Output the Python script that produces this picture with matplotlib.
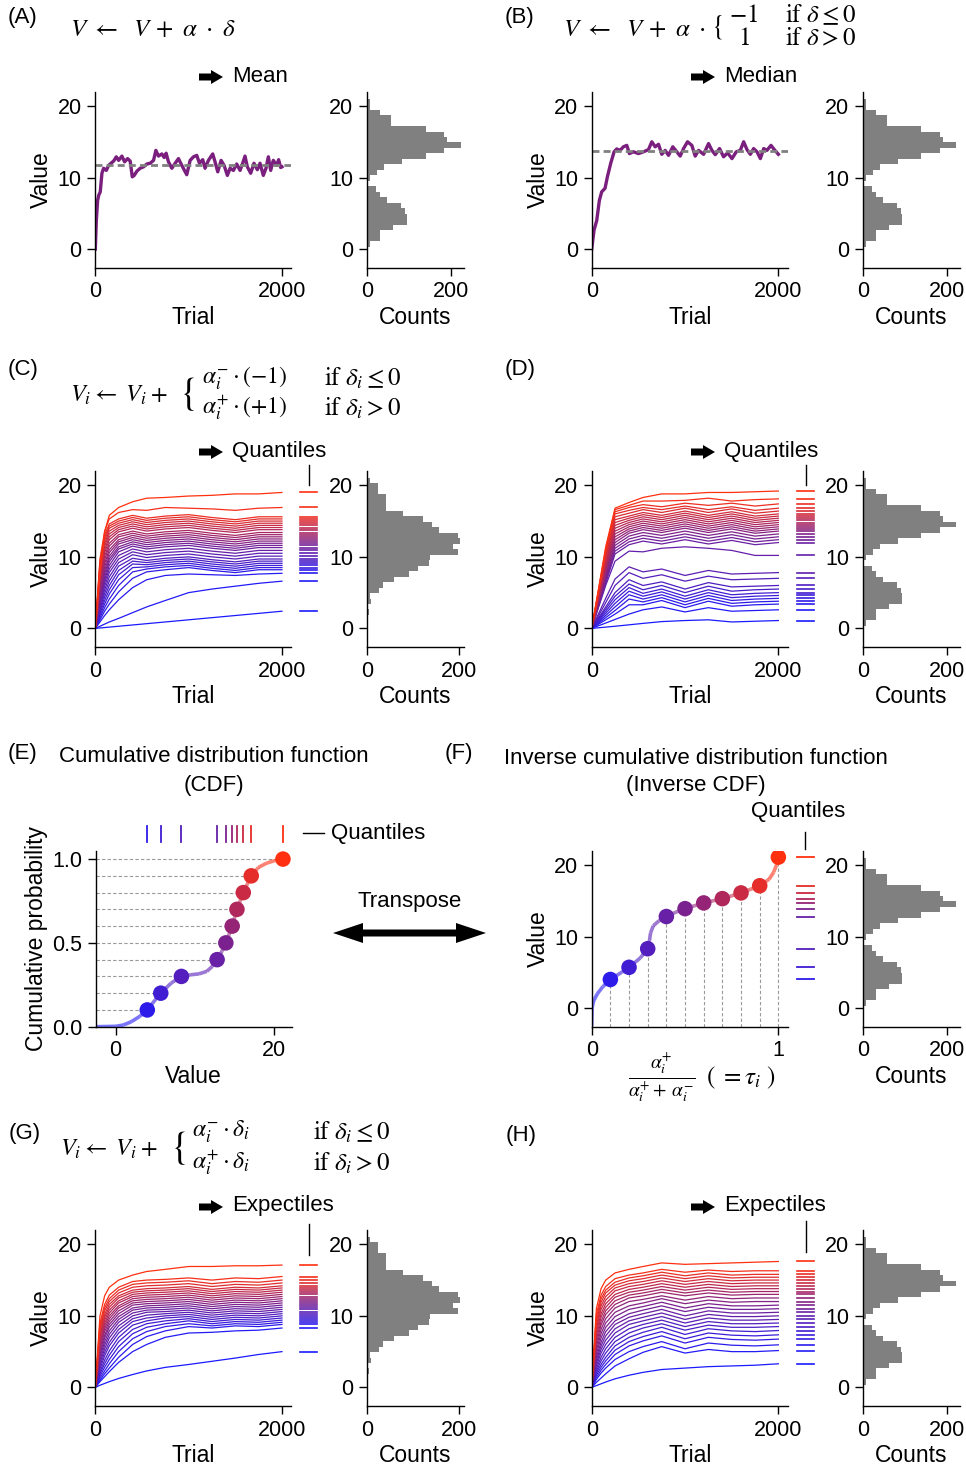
import numpy as np
import matplotlib
matplotlib.use('Agg')
import matplotlib.pyplot as plt
from matplotlib.colors import LinearSegmentedColormap
from matplotlib.collections import LineCollection
from matplotlib.patches import Polygon

plt.rcParams['font.family'] = ['Liberation Sans', 'DejaVu Sans']
plt.rcParams['mathtext.fontset'] = 'stix'
plt.rcParams['font.size'] = 16
plt.rcParams['axes.labelsize'] = 16.5
plt.rcParams['axes.linewidth'] = 1.0

# ---------------- data ----------------
# (A) mean learner, one trace
a_trial = [0, 11, 25, 36, 53, 71, 89, 118, 143, 168, 196, 225, 250, 285, 314, 346, 374, 396, 417, 446,
           481, 517, 553, 588, 624, 649, 677, 713, 738, 759, 784, 820, 856, 891, 927, 955, 980, 1016,
           1052, 1087, 1116, 1151, 1176, 1212, 1258, 1283, 1312, 1348, 1380, 1415, 1444, 1480, 1515,
           1551, 1579, 1604, 1629, 1665, 1700, 1736, 1765, 1800, 1829, 1854, 1879, 1907, 1943, 1964,
           1986, 2000]
a_value = [0, 4.0, 6.8, 7.5, 8.0, 10.6, 11.3, 11.0, 11.7, 12.0, 12.3, 12.9, 12.4, 13.0, 12.2, 12.65,
           12.3, 10.1, 10.3, 10.9, 11.3, 11.5, 11.9, 12.0, 12.4, 13.8, 13.0, 13.3, 12.8, 13.4, 12.2,
           11.3, 12.0, 12.65, 11.7, 11.0, 10.4, 12.4, 12.9, 13.1, 12.0, 12.5, 11.3, 12.4, 13.3, 12.2,
           10.8, 12.4, 11.7, 10.3, 11.3, 11.0, 11.9, 11.0, 12.0, 13.0, 11.5, 10.6, 12.0, 11.1, 12.0,
           10.3, 11.3, 12.9, 11.0, 12.4, 11.7, 12.5, 11.4, 11.5]
a_mean = 11.8

# (B) median learner, one trace
b_trial = [0, 25, 54, 82, 107, 143, 168, 204, 240, 268, 304, 340, 376, 404, 447, 501, 555, 608, 644,
           680, 716, 751, 787, 823, 869, 912, 948, 984, 1027, 1073, 1109, 1145, 1199, 1252, 1288, 1324,
           1370, 1413, 1456, 1503, 1549, 1592, 1628, 1664, 1700, 1735, 1771, 1807, 1843, 1878, 1921,
           1957, 2000]
b_value = [0, 2.65, 4.0, 6.8, 8.0, 8.5, 10.1, 12.0, 13.6, 14.0, 13.8, 14.3, 14.5, 13.35, 13.6, 13.35,
           13.6, 13.9, 15.0, 14.3, 14.65, 13.25, 13.8, 13.1, 14.3, 13.6, 13.0, 14.05, 15.0, 14.5, 13.0,
           13.8, 13.25, 14.75, 13.8, 13.2, 14.05, 12.9, 13.45, 12.65, 13.6, 13.8, 15.0, 13.9, 13.25,
           14.05, 13.6, 12.65, 14.05, 13.8, 14.5, 13.9, 13.25]
b_median = 13.7

# reward histograms (bins bottom -> top)
hist_lo, hist_hi, hist_n = -0.42, 21.03, 28
counts_bimodal = [4, 8, 32, 32, 62, 94, 94, 90, 82, 48, 32, 21, 2, 8, 24, 40, 83, 139, 183, 222,
                  190, 183, 139, 57, 57, 32, 8, 8]
counts_unimodal = [0, 0, 0, 6, 3, 10, 8, 26, 35, 60, 91, 112, 134, 137, 197, 186, 202, 197, 157,
                   141, 121, 78, 42, 42, 42, 24, 24, 7]

# value traces of the distributional learners, read at these trials
trial_knots = [0, 50, 100, 150, 250, 400, 550, 750, 1000, 1250, 1500, 1750, 2000]

# (C) quantile learners, unimodal rewards (rows: lowest tau -> highest tau)
c_lines = [
    [0, 0.06, 0.12, 0.18, 0.3, 0.48, 0.66, 0.9, 1.2, 1.5, 1.8, 2.1, 2.4],
    [0, 0.3, 0.6, 0.9, 1.4, 2.2, 3.0, 3.9, 5.0, 5.5, 5.9, 6.3, 6.6],
    [0, 0.9, 1.8, 2.6, 4.0, 5.7, 6.8, 7.4, 7.6, 7.5, 7.4, 7.6, 7.7],
    [0, 1.2, 2.4, 3.4, 5.1, 7.0, 7.9, 8.2, 8.5, 8.1, 7.8, 8.2, 8.2],
    [0, 1.5, 2.9, 4.1, 6.0, 7.9, 8.3, 8.6, 8.8, 8.4, 8.1, 8.5, 8.5],
    [0, 1.8, 3.4, 4.8, 6.8, 8.5, 8.6, 8.9, 9.1, 8.7, 8.4, 8.8, 8.8],
    [0, 2.1, 3.9, 5.4, 7.5, 9.0, 8.9, 9.2, 9.4, 9.0, 8.7, 9.1, 9.1],
    [0, 2.4, 4.4, 6.0, 8.1, 9.4, 9.2, 9.5, 9.7, 9.3, 9.0, 9.4, 9.4],
    [0, 2.7, 4.9, 6.6, 8.7, 9.8, 9.5, 9.8, 10.0, 9.6, 9.3, 9.7, 9.7],
    [0, 3.0, 5.4, 7.2, 9.2, 10.3, 9.9, 10.2, 10.4, 10.0, 9.7, 10.1, 10.1],
    [0, 3.3, 5.9, 7.8, 9.7, 10.7, 10.3, 10.6, 10.8, 10.4, 10.1, 10.5, 10.5],
    [0, 3.6, 6.4, 8.3, 10.2, 11.1, 10.7, 11.0, 11.2, 10.8, 10.5, 10.9, 10.9],
    [0, 3.9, 6.8, 8.8, 10.7, 11.5, 11.1, 11.4, 11.6, 11.2, 10.9, 11.3, 11.3],
    [0, 4.2, 7.2, 9.3, 11.1, 11.8, 11.4, 11.7, 11.9, 11.5, 11.2, 11.6, 11.6],
    [0, 4.5, 7.7, 9.7, 11.4, 12.1, 11.7, 12.0, 12.2, 11.8, 11.5, 11.9, 11.9],
    [0, 4.9, 8.1, 10.1, 11.8, 12.4, 12.0, 12.3, 12.5, 12.1, 11.8, 12.2, 12.2],
    [0, 5.3, 8.6, 10.6, 12.1, 12.7, 12.3, 12.6, 12.8, 12.4, 12.1, 12.5, 12.5],
    [0, 5.7, 9.1, 11.0, 12.4, 13.0, 12.6, 12.9, 13.1, 12.7, 12.4, 12.8, 12.8],
    [0, 6.1, 9.6, 11.5, 12.8, 13.3, 12.9, 13.2, 13.4, 13.0, 12.7, 13.1, 13.1],
    [0, 6.5, 10.1, 11.9, 13.1, 13.6, 13.2, 13.5, 13.7, 13.3, 13.0, 13.4, 13.4],
    [0, 6.9, 10.6, 12.4, 13.5, 14.0, 13.6, 13.9, 14.1, 13.7, 13.4, 13.8, 13.8],
    [0, 7.3, 11.0, 12.8, 13.8, 14.3, 13.9, 14.2, 14.4, 14.0, 13.7, 14.1, 14.1],
    [0, 7.7, 11.5, 13.2, 14.1, 14.6, 14.2, 14.5, 14.7, 14.3, 14.0, 14.4, 14.4],
    [0, 8.1, 11.9, 13.6, 14.4, 14.9, 14.5, 14.8, 15.0, 14.6, 14.3, 14.7, 14.7],
    [0, 8.5, 12.3, 14.0, 14.7, 15.2, 14.8, 15.1, 15.3, 14.9, 14.6, 15.0, 15.0],
    [0, 8.9, 12.7, 14.3, 15.0, 15.5, 15.1, 15.4, 15.6, 15.2, 14.9, 15.3, 15.3],
    [0, 9.3, 13.1, 14.6, 15.3, 15.8, 15.4, 15.7, 15.9, 15.5, 15.2, 15.6, 15.6],
    [0, 9.7, 13.6, 15.3, 16.2, 16.6, 16.5, 16.9, 16.8, 16.7, 16.5, 16.8, 16.9],
    [0, 7.5, 13.5, 15.8, 16.9, 17.7, 18.2, 18.3, 18.5, 18.6, 18.8, 18.8, 19.0],
]

# (D) quantile learners, bimodal rewards
d_lines = [
    [0, 0.06, 0.12, 0.18, 0.3, 0.5, 0.7, 0.95, 1.1, 1.2, 0.9, 1.0, 1.1],
    [0, 0.25, 0.5, 0.75, 1.25, 2.0, 2.6, 3.0, 2.3, 2.9, 2.4, 2.5, 2.6],
    [0, 0.4, 0.8, 1.2, 2.0, 3.3, 3.3, 3.9, 2.9, 3.8, 3.1, 3.3, 3.4],
    [0, 0.5, 1.0, 1.5, 2.5, 4.1, 3.7, 4.3, 3.3, 4.2, 3.5, 3.7, 3.8],
    [0, 0.6, 1.2, 1.8, 3.0, 4.7, 4.1, 4.7, 3.7, 4.6, 3.9, 4.1, 4.2],
    [0, 0.7, 1.4, 2.1, 3.5, 5.2, 4.5, 5.1, 4.1, 5.0, 4.3, 4.5, 4.6],
    [0, 0.8, 1.6, 2.4, 4.0, 5.7, 4.9, 5.5, 4.5, 5.4, 4.7, 4.9, 5.0],
    [0, 0.9, 1.8, 2.7, 4.5, 6.2, 5.4, 6.0, 5.0, 5.9, 5.2, 5.4, 5.5],
    [0, 1.0, 2.0, 3.0, 5.0, 6.8, 6.0, 6.5, 5.5, 6.4, 5.8, 5.9, 6.0],
    [0, 1.2, 2.4, 3.6, 6.0, 7.8, 7.0, 7.5, 6.6, 7.3, 6.8, 6.9, 7.0],
    [0, 1.4, 2.8, 4.2, 6.9, 8.6, 7.9, 8.3, 7.4, 8.1, 7.6, 7.7, 7.8],
    [0, 2.0, 4.0, 6.0, 9.4, 10.8, 10.7, 11.2, 11.4, 11.2, 10.9, 10.2, 10.2],
    [0, 2.1, 4.2, 6.3, 10.4, 11.7, 12.2, 11.8, 12.4, 11.8, 12.3, 11.7, 12.0],
    [0, 2.2, 4.4, 6.6, 10.8, 12.1, 12.6, 12.2, 12.8, 12.2, 12.7, 12.1, 12.4],
    [0, 2.3, 4.6, 6.9, 11.2, 12.5, 13.0, 12.6, 13.2, 12.6, 13.1, 12.5, 12.8],
    [0, 2.4, 4.8, 7.2, 11.6, 12.9, 13.4, 13.0, 13.6, 13.0, 13.5, 12.9, 13.2],
    [0, 2.5, 5.0, 7.5, 12.0, 13.3, 13.8, 13.4, 14.0, 13.4, 13.9, 13.3, 13.6],
    [0, 2.6, 5.2, 7.8, 12.4, 13.6, 14.1, 13.7, 14.3, 13.7, 14.2, 13.6, 13.9],
    [0, 2.7, 5.4, 8.1, 12.8, 13.9, 14.4, 14.0, 14.6, 14.0, 14.5, 13.9, 14.2],
    [0, 2.8, 5.6, 8.4, 13.2, 14.2, 14.7, 14.3, 14.9, 14.3, 14.8, 14.2, 14.5],
    [0, 2.9, 5.8, 8.7, 13.6, 14.5, 15.0, 14.6, 15.2, 14.6, 15.1, 14.5, 14.8],
    [0, 3.0, 6.0, 9.0, 14.0, 14.8, 15.3, 14.9, 15.5, 14.9, 15.4, 14.8, 15.1],
    [0, 3.1, 6.2, 9.3, 14.4, 15.1, 15.6, 15.2, 15.8, 15.2, 15.7, 15.1, 15.4],
    [0, 3.2, 6.4, 9.6, 14.8, 15.4, 15.9, 15.5, 16.1, 15.5, 16.0, 15.4, 15.7],
    [0, 3.3, 6.6, 9.9, 15.2, 15.7, 16.2, 15.8, 16.4, 15.8, 16.3, 15.7, 16.0],
    [0, 3.4, 6.8, 10.2, 15.6, 16.1, 16.6, 16.2, 16.8, 16.2, 16.7, 16.1, 16.4],
    [0, 3.5, 7.0, 10.5, 16.0, 16.5, 16.9, 16.6, 17.1, 16.6, 17.0, 16.5, 16.8],
    [0, 3.6, 7.2, 10.8, 16.3, 16.9, 17.3, 17.0, 17.5, 17.2, 17.5, 17.1, 17.4],
    [0, 3.7, 7.4, 11.1, 16.6, 17.2, 17.8, 17.8, 17.9, 18.2, 17.8, 18.0, 18.1],
    [0, 3.8, 7.6, 11.4, 16.8, 17.6, 18.3, 18.8, 18.8, 19.0, 19.0, 19.1, 19.2],
]

# (G) expectile learners, unimodal rewards
g_lines = [
    [0, 0.3, 0.55, 0.8, 1.25, 1.8, 2.3, 2.8, 3.2, 3.65, 4.1, 4.6, 5.0],
    [0, 0.8, 1.5, 2.2, 3.5, 5.0, 6.0, 7.0, 7.6, 7.7, 7.9, 8.0, 8.3],
    [0, 1.0, 1.9, 2.7, 4.2, 6.0, 7.1, 7.9, 8.5, 8.3, 8.6, 8.5, 8.8],
    [0, 1.3, 2.3, 3.3, 5.0, 6.8, 7.8, 8.5, 8.9, 8.6, 8.9, 8.8, 9.1],
    [0, 1.6, 2.8, 3.9, 5.7, 7.5, 8.4, 8.9, 9.3, 8.9, 9.2, 9.1, 9.4],
    [0, 1.9, 3.3, 4.5, 6.4, 8.1, 8.9, 9.3, 9.6, 9.2, 9.5, 9.4, 9.7],
    [0, 2.2, 3.8, 5.1, 7.0, 8.7, 9.3, 9.7, 9.9, 9.5, 9.8, 9.7, 10.0],
    [0, 2.6, 4.4, 5.8, 7.6, 9.2, 9.7, 10.0, 10.2, 9.8, 10.1, 10.0, 10.3],
    [0, 3.0, 4.9, 6.3, 8.1, 9.6, 10.1, 10.3, 10.5, 10.1, 10.4, 10.3, 10.6],
    [0, 3.4, 5.4, 6.9, 8.6, 10.0, 10.5, 10.6, 10.8, 10.4, 10.7, 10.6, 10.9],
    [0, 3.8, 5.9, 7.4, 9.1, 10.4, 10.8, 10.9, 11.1, 10.7, 11.0, 10.9, 11.2],
    [0, 4.2, 6.4, 7.9, 9.5, 10.8, 11.1, 11.2, 11.4, 11.0, 11.3, 11.2, 11.5],
    [0, 4.6, 6.9, 8.4, 9.9, 11.1, 11.4, 11.5, 11.7, 11.3, 11.6, 11.5, 11.8],
    [0, 5.0, 7.3, 8.8, 10.3, 11.5, 11.7, 11.8, 12.0, 11.6, 11.9, 11.8, 12.1],
    [0, 5.4, 7.8, 9.2, 10.7, 11.8, 12.0, 12.1, 12.3, 11.9, 12.2, 12.1, 12.4],
    [0, 5.8, 8.2, 9.6, 11.1, 12.1, 12.3, 12.4, 12.6, 12.2, 12.5, 12.4, 12.7],
    [0, 6.2, 8.6, 10.0, 11.4, 12.4, 12.6, 12.7, 12.9, 12.5, 12.8, 12.7, 13.0],
    [0, 6.6, 9.0, 10.4, 11.8, 12.7, 12.9, 13.0, 13.2, 12.8, 13.1, 13.0, 13.3],
    [0, 7.0, 9.4, 10.8, 12.1, 13.0, 13.2, 13.3, 13.5, 13.1, 13.4, 13.3, 13.6],
    [0, 7.4, 9.8, 11.2, 12.5, 13.3, 13.5, 13.6, 13.8, 13.4, 13.7, 13.6, 13.9],
    [0, 7.8, 10.2, 11.6, 12.8, 13.6, 13.8, 13.9, 14.1, 13.7, 14.0, 13.9, 14.2],
    [0, 8.2, 10.7, 12.0, 13.2, 14.0, 14.2, 14.3, 14.5, 14.1, 14.4, 14.3, 14.6],
    [0, 8.6, 11.1, 12.4, 13.6, 14.4, 14.6, 14.7, 14.9, 14.5, 14.8, 14.7, 15.0],
    [0, 9.0, 11.6, 12.9, 14.0, 14.8, 15.0, 15.1, 15.3, 15.0, 15.3, 15.2, 15.5],
    [0, 10.0, 12.8, 14.0, 15.0, 15.7, 16.2, 16.5, 16.9, 16.9, 17.0, 17.0, 17.1],
]

# (H) expectile learners, bimodal rewards
h_lines = [
    [0, 0.25, 0.5, 0.75, 1.2, 1.7, 2.1, 2.5, 2.7, 2.9, 3.0, 3.1, 3.3],
    [0, 0.7, 1.3, 1.9, 3.0, 4.0, 4.9, 5.7, 4.8, 5.3, 5.0, 5.0, 5.15],
    [0, 1.1, 2.0, 2.7, 3.9, 5.0, 5.7, 6.4, 5.4, 6.2, 5.9, 5.8, 5.95],
    [0, 1.4, 2.4, 3.2, 4.6, 5.8, 6.5, 7.2, 6.2, 7.0, 6.7, 6.6, 6.75],
    [0, 1.7, 2.8, 3.7, 5.2, 6.4, 7.1, 7.8, 6.8, 7.6, 7.3, 7.2, 7.35],
    [0, 2.0, 3.2, 4.2, 5.8, 7.0, 7.7, 8.4, 7.4, 8.2, 7.9, 7.8, 7.95],
    [0, 2.3, 3.7, 4.8, 6.4, 7.6, 8.3, 8.9, 8.0, 8.7, 8.4, 8.4, 8.5],
    [0, 2.6, 4.2, 5.4, 7.0, 8.2, 8.8, 9.4, 8.5, 9.2, 8.9, 8.9, 9.0],
    [0, 3.0, 4.8, 6.0, 7.6, 8.8, 9.3, 9.9, 9.0, 9.7, 9.4, 9.4, 9.5],
    [0, 3.4, 5.3, 6.6, 8.2, 9.3, 9.8, 10.4, 9.5, 10.2, 9.9, 9.9, 10.0],
    [0, 3.8, 5.8, 7.2, 8.8, 9.8, 10.3, 10.9, 10.0, 10.7, 10.4, 10.4, 10.5],
    [0, 4.2, 6.3, 7.8, 9.3, 10.3, 10.8, 11.4, 10.6, 11.2, 10.9, 10.9, 11.0],
    [0, 4.7, 6.9, 8.4, 9.9, 10.9, 11.3, 11.9, 11.1, 11.7, 11.4, 11.4, 11.5],
    [0, 5.2, 7.5, 9.0, 10.5, 11.4, 11.8, 12.4, 11.7, 12.2, 11.9, 12.0, 12.0],
    [0, 5.7, 8.1, 9.6, 11.1, 12.0, 12.3, 12.8, 12.2, 12.7, 12.4, 12.5, 12.5],
    [0, 6.2, 8.7, 10.2, 11.6, 12.5, 12.8, 13.3, 12.8, 13.2, 12.9, 13.0, 13.0],
    [0, 6.7, 9.2, 10.7, 12.1, 12.9, 13.2, 13.7, 13.2, 13.6, 13.3, 13.4, 13.4],
    [0, 7.2, 9.8, 11.2, 12.6, 13.3, 13.6, 14.1, 13.6, 14.0, 13.7, 13.8, 13.8],
    [0, 7.7, 10.3, 11.7, 13.0, 13.7, 14.0, 14.5, 14.0, 14.4, 14.1, 14.2, 14.2],
    [0, 8.2, 10.9, 12.2, 13.5, 14.1, 14.4, 14.9, 14.4, 14.8, 14.5, 14.6, 14.6],
    [0, 8.7, 11.4, 12.7, 13.9, 14.5, 14.8, 15.3, 14.8, 15.2, 14.9, 15.0, 15.0],
    [0, 9.2, 11.9, 13.2, 14.3, 14.9, 15.2, 15.7, 15.2, 15.6, 15.3, 15.4, 15.4],
    [0, 9.7, 12.4, 13.6, 14.7, 15.3, 15.6, 16.1, 15.6, 16.0, 15.7, 15.8, 15.8],
    [0, 10.2, 12.9, 14.1, 15.2, 15.7, 16.0, 16.5, 16.1, 16.4, 16.2, 16.3, 16.3],
    [0, 11.0, 13.8, 15.0, 16.0, 16.5, 16.9, 17.4, 17.2, 17.3, 17.4, 17.5, 17.6],
]

# (E)/(F) cumulative distribution of the bimodal rewards
cdf_value = [-2.5, 0, 1, 2, 3, 4.0, 5, 5.7, 7, 8.3, 9.5, 10.5, 11.5, 12.2, 12.8, 13.4, 13.9, 14.3,
             14.7, 15.0, 15.3, 15.7, 16.1, 16.6, 17.1, 18.0, 19.0, 20.0, 21.1]
cdf_prob = [0, 0.002, 0.01, 0.03, 0.06, 0.1, 0.16, 0.2, 0.26, 0.3, 0.31, 0.315, 0.33, 0.36, 0.4,
            0.45, 0.5, 0.55, 0.6, 0.65, 0.7, 0.75, 0.8, 0.85, 0.9, 0.95, 0.975, 0.99, 1.0]
q_tau = [0.1, 0.2, 0.3, 0.4, 0.5, 0.6, 0.7, 0.8, 0.9, 1.0]
q_value = [4.0, 5.7, 8.3, 12.8, 13.9, 14.7, 15.3, 16.1, 17.1, 21.1]

# ---------------- layout ----------------
W, H = 966, 1468
fig = plt.figure(figsize=(W / 100, H / 100), dpi=100)
cmap = LinearSegmentedColormap.from_list('bluered', ['#1a1aff', '#7a2190', '#ff3010'])
purple = '#7b1f7e'
gray = '#808080'


def add_ax(left, top, width, height):
    return fig.add_axes([left / W, 1 - (top + height) / H, width / W, height / H])


def style(ax):
    for s in ['top', 'right']:
        ax.spines[s].set_visible(False)
    ax.tick_params(direction='out', length=5.8, width=1, pad=4, labelsize=15.5)


def main_ax(left, top):
    ax = add_ax(left, top, 196, 176)
    style(ax)
    ax.set_xlim(0, 2100)
    ax.set_ylim(-2.6, 22)
    ax.set_xticks([0, 2000])
    ax.set_yticks([0, 10, 20])
    ax.set_xlabel('Trial', labelpad=2.5)
    ax.set_ylabel('Value', labelpad=3)
    return ax


def hist_ax(left, top, counts, xmax):
    ax = add_ax(left, top, 97.5, 176)
    style(ax)
    edges = np.linspace(hist_lo, hist_hi, hist_n + 1)
    ax.barh(edges[:-1], counts, height=edges[1] - edges[0], align='edge', color=gray, linewidth=0)
    ax.set_xlim(0, xmax)
    ax.set_ylim(-2.6, 22)
    ax.set_xticks([0, 200])
    ax.set_yticks([0, 10, 20])
    ax.set_xlabel('Counts', labelpad=2.5)
    return ax


def band(ax, lines, x0, x1, xbar, bar_lo, bar_hi):
    n = len(lines)
    for i, row in enumerate(lines):
        col = cmap(i / (n - 1))
        ax.plot(trial_knots, row, color=col, lw=0.9)
        ax.plot([x0, x1], [row[-1], row[-1]], color=col, lw=1.2, clip_on=False)
    ax.plot([xbar, xbar], [bar_lo, bar_hi], color='k', lw=1, clip_on=False)


# row 1
axA = main_ax(95.3, 91.7)
axA.plot(a_trial, a_value, color=purple, lw=2.4)
axA.axhline(a_mean, color=gray, lw=2, ls=(0, (2.5, 1.5)))
hist_ax(366.7, 91.7, counts_bimodal, 230)

axB = main_ax(591.7, 91.7)
axB.plot(b_trial, b_value, color=purple, lw=2.4)
axB.axhline(b_median, color=gray, lw=2, ls=(0, (2.5, 1.5)))
hist_ax(862.7, 91.7, counts_bimodal, 231)

# row 2
axC = main_ax(95.3, 471)
band(axC, c_lines, 2193, 2378, 2289, 20.1, 22.8)
hist_ax(366.7, 471, counts_unimodal, 211)

axD = main_ax(591.7, 471)
band(axD, d_lines, 2202, 2381, 2292, 20.1, 22.8)
hist_ax(862.7, 471, counts_bimodal, 231)

# row 3: CDF and inverse CDF
q_cols = [cmap(t) for t in q_tau]
axE = add_ax(95.7, 850.7, 196, 176)
style(axE)
axE.set_xlim(-2.5, 22.2)
axE.set_ylim(0, 1.05)
axE.set_xticks([0, 20])
axE.set_yticks([0, 0.5, 1.0])
axE.set_yticklabels(['0.0', '0.5', '1.0'])
axE.set_xlabel('Value', labelpad=2.5)
axE.set_ylabel('Cumulative probability', labelpad=3)
pts = np.column_stack([cdf_value, cdf_prob])
segs = np.stack([pts[:-1], pts[1:]], axis=1)
lc = LineCollection(segs, colors=[cmap(p) for p in cdf_prob[1:]], linewidths=2.6, alpha=0.6)
axE.add_collection(lc)
for v, p, c in zip(q_value, q_tau, q_cols):
    axE.plot([-2.5, v], [p, p], color='#999999', lw=0.8, ls=(0, (3, 2)), zorder=1)
    axE.plot([v, v], [1.10, 1.197], color=c, lw=1.3, clip_on=False)
axE.scatter(q_value, q_tau, c=q_cols, s=125, zorder=3, linewidths=0)

axF = add_ax(591.7, 850.7, 196, 176)
style(axF)
axF.set_xlim(0, 1.05)
axF.set_ylim(-2.6, 22)
axF.set_xticks([0, 1])
axF.set_yticks([0, 10, 20])
axF.set_ylabel('Value', labelpad=3)
pts = np.column_stack([cdf_prob, cdf_value])
segs = np.stack([pts[:-1], pts[1:]], axis=1)
lc = LineCollection(segs, colors=[cmap(p) for p in cdf_prob[1:]], linewidths=2.6, alpha=0.6)
axF.add_collection(lc)
for v, p, c in zip(q_value, q_tau, q_cols):
    axF.plot([p, p], [-2.6, v], color='#999999', lw=0.8, ls=(0, (3, 2)), zorder=1)
    axF.plot([1.10, 1.191], [v, v], color=c, lw=1.3, clip_on=False)
axF.plot([1.143, 1.143], [22.2, 24.6], color='k', lw=1, clip_on=False)
axF.scatter(q_tau, q_value, c=q_cols, s=125, zorder=3, linewidths=0)
hist_ax(862.7, 850.7, counts_bimodal, 231)

# row 4
axG = main_ax(95.3, 1230)
band(axG, g_lines, 2193, 2378, 2289, 18.5, 22.9)
hist_ax(366.7, 1230, counts_unimodal, 211)

axH = main_ax(591.7, 1230)
band(axH, h_lines, 2202, 2381, 2292, 18.9, 23.3)
hist_ax(862.7, 1230, counts_bimodal, 231)

# ---------------- overlay in pixel coordinates ----------------
ov = fig.add_axes([0, 0, 1, 1], zorder=10)
ov.set_xlim(0, W)
ov.set_ylim(H, 0)
ov.axis('off')
ov.patch.set_alpha(0)


def txt(x, y, s, size=16, ha='left', **kw):
    ov.text(x, y, s, fontsize=size, ha=ha, va='center', **kw)


def fat_arrow(x0, y0):
    p = [(x0, y0 - 3.5), (x0 + 12, y0 - 3.5), (x0 + 12, y0 - 7), (x0 + 24, y0),
         (x0 + 12, y0 + 7), (x0 + 12, y0 + 3.5), (x0, y0 + 3.5)]
    ov.add_patch(Polygon(p, closed=True, color='black', lw=0))


for lab, x, y in [('(A)', 8, 18), ('(B)', 505, 18), ('(C)', 8, 370), ('(D)', 505, 370),
                  ('(E)', 8, 753), ('(F)', 445, 753), ('(G)', 9, 1133), ('(H)', 506, 1135)]:
    txt(x, y, lab)

fs = 18
# formulas
txt(70, 29, r'$V\ \leftarrow\ \ V\,+\ \alpha\ \cdot\ \delta$', size=fs)
txt(563, 29, r'$V\ \leftarrow\ \ V\,+\ \alpha\ \cdot$', size=fs)
txt(711, 27, r'$\{$', size=20)
txt(729, 15, r'$-1$', size=fs)
txt(738, 38, r'$1$', size=fs)
txt(785, 15, r'$\mathrm{if}\ \delta \leq 0$', size=fs)
txt(785, 38, r'$\mathrm{if}\ \delta > 0$', size=fs)

txt(70, 395, r'$V_i \leftarrow\ V_i +$', size=17.5)
txt(179, 394, r'$\{$', size=28)
txt(202, 378, r'$\alpha_i^{-}\cdot(-1)$', size=17)
txt(202, 408, r'$\alpha_i^{+}\cdot(+1)$', size=17)
txt(324, 378, r'$\mathrm{if}\ \delta_i \leq 0$', size=fs)
txt(324, 408, r'$\mathrm{if}\ \delta_i > 0$', size=fs)

txt(60, 1149, r'$V_i \leftarrow\ V_i +$', size=17.5)
txt(170, 1148, r'$\{$', size=28)
txt(192, 1132, r'$\alpha_i^{-}\cdot\delta_i$', size=17)
txt(192, 1163, r'$\alpha_i^{+}\cdot\delta_i$', size=17)
txt(313, 1132, r'$\mathrm{if}\ \delta_i \leq 0$', size=fs)
txt(313, 1163, r'$\mathrm{if}\ \delta_i > 0$', size=fs)

# arrows with learned statistic
for x0, y0, word in [(199, 77, 'Mean'), (691, 77, 'Median'), (199, 452, 'Quantiles'),
                     (691, 452, 'Quantiles'), (199, 1207, 'Expectiles'), (691, 1207, 'Expectiles')]:
    fat_arrow(x0, y0)
    txt(x0 + 33, y0 - 1, word)

# titles of E and F
txt(214, 757, 'Cumulative distribution function', ha='center')
txt(214, 786, '(CDF)', ha='center')
txt(696, 758, 'Inverse cumulative distribution function', ha='center')
txt(696, 785, '(Inverse CDF)', ha='center')
ov.plot([303, 324], [833, 833], color='k', lw=1)
txt(331, 833, 'Quantiles')
txt(798, 812, 'Quantiles', ha='center')

# transpose arrow
txt(410, 901, 'Transpose', ha='center')
p = [(333, 933), (363, 923), (363, 929.5), (456, 929.5), (456, 923), (486, 933),
     (456, 943), (456, 936.5), (363, 936.5), (363, 943)]
ov.add_patch(Polygon(p, closed=True, color='black', lw=0))

# x label of F
txt(662, 1078, r'$\frac{\alpha_i^{+}}{\alpha_i^{+}+\,\alpha_i^{-}}$', size=20, ha='center')
txt(706, 1078, r'$(\ =\tau_i\ )$', size=fs)

fig.savefig('out.png', dpi=100)
